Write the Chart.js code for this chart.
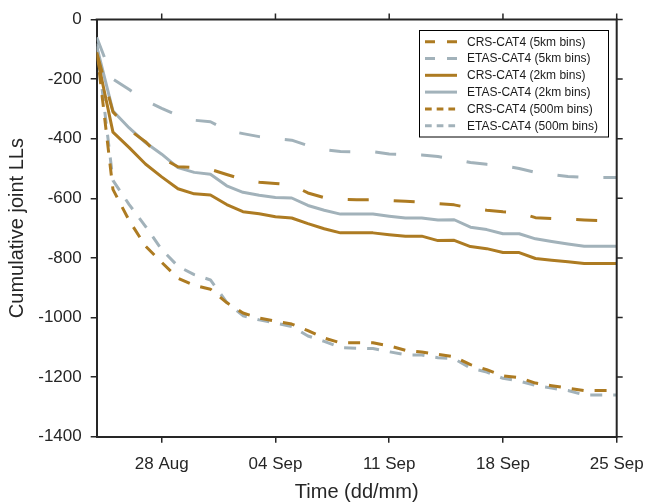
<!DOCTYPE html>
<html>
<head>
<meta charset="utf-8">
<title>Cumulative joint LLs</title>
<script src="https://cdn.jsdelivr.net/npm/chart.js@4.4.1/dist/chart.umd.min.js"></script>
<style>
  html, body { margin: 0; padding: 0; background: #fff; }
  canvas { display: block; }
</style>
</head>
<body>
<canvas id="chart" width="646" height="503"></canvas>
<script>
// ── Data: one value per day, day 0 = 24 Aug ──
const days = [0, 1, 2, 3, 4, 5, 6, 7, 8, 9, 10, 11, 12, 13, 14, 15, 16,
              17, 18, 19, 20, 21, 22, 23, 24, 25, 26, 27, 28, 29, 30, 31, 32];

const crs5km   = [-110, -310, -370, -410, -465, -494, -497, -503, -520, -537, -546, -550, -555, -582, -598, -603, -605,
                  -605, -607, -610, -613, -618, -622, -633, -640, -645, -648, -665, -668, -670, -673, -675, -675];
const etas5km  = [-60, -200, -235, -272, -298, -322, -338, -343, -372, -383, -393, -400, -405, -423, -437, -443, -444,
                  -444, -451, -453, -455, -460, -469, -480, -486, -491, -500, -513, -520, -527, -530, -530, -530];
const crs2km   = [-120, -378, -430, -485, -528, -568, -585, -589, -621, -645, -652, -662, -666, -685, -702, -716, -716,
                  -716, -722, -727, -727, -742, -741, -762, -769, -782, -782, -802, -808, -813, -819, -819, -819];
const etas2km  = [-90, -307, -364, -413, -452, -497, -513, -519, -558, -580, -590, -597, -599, -624, -640, -653, -653,
                  -653, -660, -666, -666, -673, -672, -697, -705, -719, -719, -736, -745, -753, -761, -761, -761];
const crs500m  = [-100, -570, -675, -760, -815, -868, -892, -905, -950, -985, -1002, -1012, -1022, -1044, -1069, -1085, -1085,
                  -1085, -1095, -1110, -1116, -1124, -1132, -1158, -1175, -1196, -1202, -1220, -1229, -1237, -1245, -1245, -1245];
const etas500m = [-80, -540, -621, -694, -772, -828, -856, -874, -949, -994, -1008, -1019, -1030, -1062, -1080, -1101, -1103,
                  -1104, -1115, -1125, -1126, -1135, -1138, -1170, -1183, -1204, -1213, -1228, -1237, -1245, -1260, -1260, -1260];

const tickDays   = [4, 11, 18, 25, 32];
const tickLabels = ['28 Aug', '04 Sep', '11 Sep', '18 Sep', '25 Sep'];

// ── Styles ──
const GOLD  = '#ad7b22';
const GREY  = '#a2b2ba';
const AXIS  = '#262626';
const FONT  = "'Liberation Sans', Arial, Helvetica, sans-serif";

const DASH_LONG  = [21, 25];
const DASH_SHORT = [12, 11];

function series(label, values, color, dash, legendDash) {
  return {
    label,
    data: values.map((v, i) => ({ x: days[i], y: v })),
    borderColor: color,
    borderWidth: 3,
    borderDash: dash,
    borderCapStyle: 'butt',
    borderJoinStyle: 'round',
    pointRadius: 0,
    fill: false,
    tension: 0,
    legendDash,
  };
}

const datasets = [
  series('CRS-CAT4 (5km bins)',   crs5km,   GOLD, DASH_LONG,  [10, 12]),
  series('ETAS-CAT4 (5km bins)',  etas5km,  GREY, DASH_LONG,  [10, 12]),
  series('CRS-CAT4 (2km bins)',   crs2km,   GOLD, [],         []),
  series('ETAS-CAT4 (2km bins)',  etas2km,  GREY, [],         []),
  series('CRS-CAT4 (500m bins)',  crs500m,  GOLD, DASH_SHORT, [6.7, 5]),
  series('ETAS-CAT4 (500m bins)', etas500m, GREY, DASH_SHORT, [6.7, 5]),
];

// ── Box frame: top and right edges with outward ticks ──
const framePlugin = {
  id: 'frame',
  afterDraw(chart) {
    const { ctx, chartArea: a, scales: { x, y } } = chart;
    ctx.save();
    ctx.strokeStyle = AXIS;
    ctx.lineWidth = 2;
    ctx.beginPath();
    ctx.moveTo(a.left - 1, a.top);
    ctx.lineTo(a.right, a.top);
    ctx.lineTo(a.right, a.bottom + 1);
    ctx.stroke();

    ctx.lineWidth = 1.5;
    ctx.beginPath();
    x.ticks.forEach(t => {
      const px = x.getPixelForValue(t.value);
      ctx.moveTo(px, a.top);
      ctx.lineTo(px, a.top - 6);
    });
    y.ticks.forEach(t => {
      const py = y.getPixelForValue(t.value);
      ctx.moveTo(a.right, py);
      ctx.lineTo(a.right + 6, py);
    });
    ctx.stroke();
    ctx.restore();
  }
};

// ── Legend box, upper right ──
const legendPlugin = {
  id: 'boxLegend',
  afterDraw(chart) {
    const { ctx } = chart;
    const box = { x: 419, y: 30, w: 189, h: 106.5 };
    ctx.save();
    ctx.fillStyle = '#fff';
    ctx.fillRect(box.x, box.y, box.w, box.h);
    ctx.strokeStyle = '#000';
    ctx.lineWidth = 1;
    ctx.strokeRect(box.x + 0.5, box.y + 0.5, box.w, box.h);

    ctx.font = '12px ' + FONT;
    ctx.textBaseline = 'middle';
    ctx.textAlign = 'left';
    chart.data.datasets.forEach((ds, i) => {
      const ry = 41.7 + i * 16.8;
      ctx.strokeStyle = ds.borderColor;
      ctx.lineWidth = 3;
      ctx.lineCap = 'butt';
      ctx.setLineDash(ds.legendDash);
      ctx.beginPath();
      ctx.moveTo(425, ry);
      ctx.lineTo(457, ry);
      ctx.stroke();
      ctx.setLineDash([]);
      ctx.fillStyle = '#1a1a1a';
      ctx.fillText(ds.label, 467, ry + 0.5);
    });
    ctx.restore();
  }
};

new Chart(document.getElementById('chart').getContext('2d'), {
  type: 'line',
  data: { datasets },
  options: {
    responsive: false,
    animation: false,
    events: [],
    layout: { padding: { left: 0, top: 19.5, right: 29.3, bottom: 0 } },
    plugins: {
      legend:  { display: false },
      tooltip: { enabled: false },
    },
    scales: {
      x: {
        type: 'linear',
        min: 0,
        max: 32,
        afterBuildTicks: scale => { scale.ticks = tickDays.map(v => ({ value: v })); },
        afterFit: scale => {
          scale.height = 66.3;
          // last label may hang past the plot edge; keep the plot width fixed
          scale.paddingLeft = 0;
          scale.paddingRight = 0;
        },
        border: { display: true, color: AXIS, width: 2 },
        grid: { display: true, drawOnChartArea: false, drawTicks: true, tickLength: 6, color: AXIS, lineWidth: 1.5 },
        ticks: {
          autoSkip: false,
          maxRotation: 0,
          padding: 11,
          color: AXIS,
          font: { family: FONT, size: 17 },
          callback: value => tickLabels[tickDays.indexOf(value)],
        },
        title: {
          display: true,
          text: 'Time (dd/mm)',
          color: AXIS,
          font: { family: FONT, size: 20, lineHeight: 1 },
          padding: { top: 0, bottom: 1 },
        },
      },
      y: {
        min: -1400,
        max: 0,
        afterFit: scale => {
          scale.width = 96.7;
          scale.paddingTop = 0;
          scale.paddingBottom = 0;
        },
        border: { display: true, color: AXIS, width: 2 },
        grid: { display: true, drawOnChartArea: false, drawTicks: true, tickLength: 6, color: AXIS, lineWidth: 1.5 },
        ticks: {
          stepSize: 200,
          padding: 9,
          color: AXIS,
          font: { family: FONT, size: 17 },
          callback: value => String(value),
        },
        title: {
          display: true,
          text: 'Cumulative joint LLs',
          color: AXIS,
          font: { family: FONT, size: 20, lineHeight: 1 },
          padding: { top: 7, bottom: 0 },
        },
      },
    },
  },
  plugins: [framePlugin, legendPlugin],
});
</script>
</body>
</html>
